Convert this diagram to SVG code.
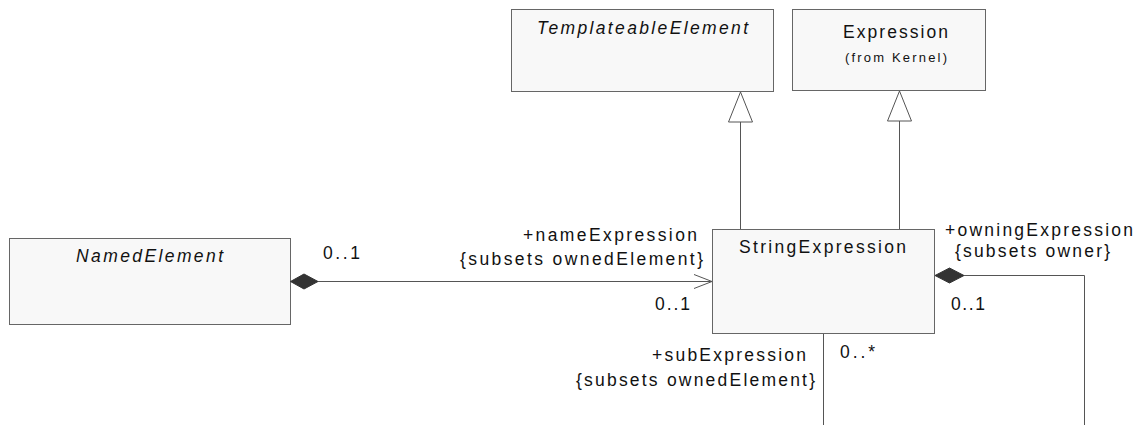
<svg xmlns="http://www.w3.org/2000/svg" width="1145" height="425" viewBox="0 0 1145 425">
<style>
.box{fill:#f8f8f8;stroke:#666;stroke-width:1}
.t{font-family:"Liberation Sans",Arial,sans-serif;font-size:17.5px;fill:#111}
.i{font-style:italic}
.s{font-size:13px}
.ln{fill:none;stroke:#555;stroke-width:1}
.tri{fill:#fff;stroke:#555;stroke-width:1}
.dia{fill:#333;stroke:#333;stroke-width:1}
</style>
<rect width="1145" height="425" fill="#fff"/>
<g id="TemplateableElement">
<rect class="box" x="511.5" y="9.5" width="262" height="82"/>
<text class="t i" x="537" y="34" textLength="211" lengthAdjust="spacing">TemplateableElement</text>
</g>
<g id="Expression">
<rect class="box" x="792.5" y="9.5" width="193" height="81"/>
<text class="t" x="843" y="38" textLength="105" lengthAdjust="spacing">Expression</text>
<text class="t s" x="845" y="62" textLength="102" lengthAdjust="spacing">(from Kernel)</text>
</g>
<g id="NamedElement">
<rect class="box" x="9.5" y="238.5" width="281" height="86"/>
<text class="t i" x="76" y="262" textLength="147" lengthAdjust="spacing">NamedElement</text>
</g>
<g id="StringExpression">
<rect class="box" x="712.5" y="229.5" width="222" height="104"/>
<text class="t" x="739" y="253" textLength="167" lengthAdjust="spacing">StringExpression</text>
</g>
<g id="connectors">
<line class="ln" x1="740.5" y1="229" x2="740.5" y2="122"/>
<polygon class="tri" points="740.5,92 728.5,122 752.5,122"/>
<line class="ln" x1="899.5" y1="229" x2="899.5" y2="121"/>
<polygon class="tri" points="899.5,91 887.5,121 911.5,121"/>
<line class="ln" x1="318" y1="281.5" x2="712" y2="281.5"/>
<polygon class="dia" points="290.5,281.5 304,274 318,281.5 304,289"/>
<polyline class="ln" points="694,274.5 712,281.5 694,288.5"/>
<polyline class="ln" points="964,275.5 1084.5,275.5 1084.5,425"/>
<polygon class="dia" points="935,275.5 949.5,268 964,275.5 949.5,283"/>
<line class="ln" x1="823.5" y1="334" x2="823.5" y2="425"/>
<text class="t" x="523" y="241" textLength="174" lengthAdjust="spacing">+nameExpression</text>
<text class="t" x="460" y="265" textLength="243" lengthAdjust="spacing">{subsets ownedElement}</text>
<text class="t" x="655" y="310" textLength="35" lengthAdjust="spacing">0..1</text>
<text class="t" x="323" y="259" textLength="37" lengthAdjust="spacing">0..1</text>
<text class="t" x="945" y="236" textLength="188" lengthAdjust="spacing">+owningExpression</text>
<text class="t" x="955" y="257" textLength="155" lengthAdjust="spacing">{subsets owner}</text>
<text class="t" x="951" y="310" textLength="34" lengthAdjust="spacing">0..1</text>
<text class="t" x="652" y="361" textLength="154" lengthAdjust="spacing">+subExpression</text>
<text class="t" x="576" y="386" textLength="239" lengthAdjust="spacing">{subsets ownedElement}</text>
<text class="t" x="840" y="358" textLength="35" lengthAdjust="spacing">0..*</text>
</g>
</svg>
